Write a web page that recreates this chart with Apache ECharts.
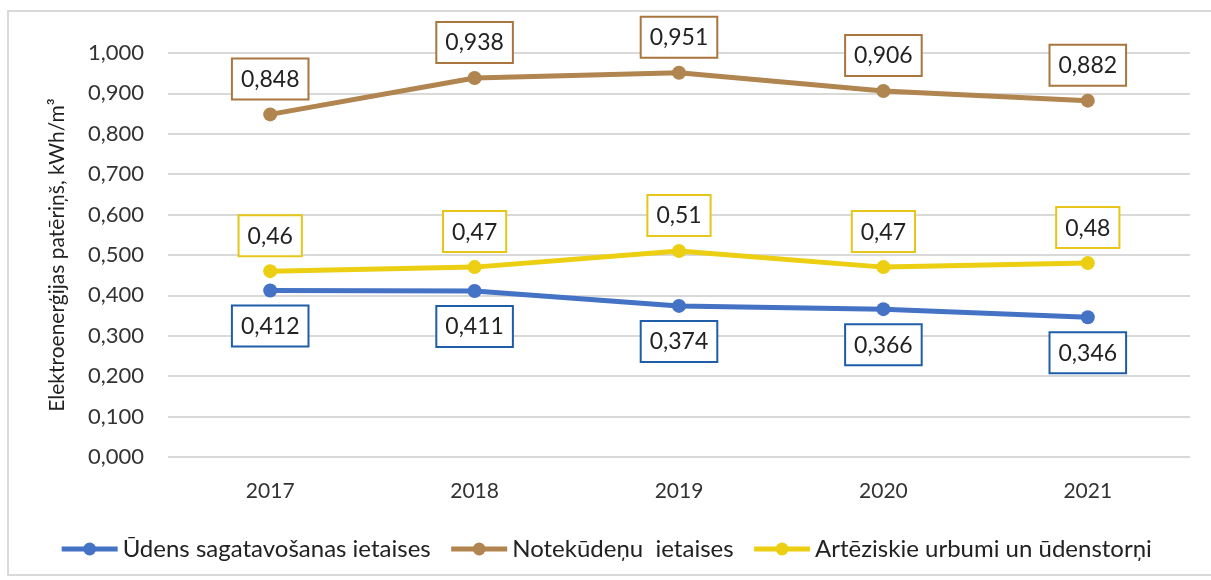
<!DOCTYPE html>
<html style="height: 100%;">
<head>
<meta charset="utf-8">
<title>Elektroenerģijas patēriņš</title>
<script type="text/javascript" src="https://cdn.jsdelivr.net/npm/echarts@6/dist/echarts.min.js"></script>
</head>
<body style="height: 100%; margin: 0; background: #fff;">
<div id="frame" style="position:absolute; left:7px; top:10px; width:1210px; height:566px; border:2px solid #d9d9d9; box-sizing:border-box;"></div>
<div id="container" style="position:absolute; left:0; top:0; width:1211px; height:580px;"></div>
<script type="text/javascript">
// dati
var years = ['2017', '2018', '2019', '2020', '2021'];
var udens = [0.412, 0.411, 0.374, 0.366, 0.346];
var noteku = [0.848, 0.938, 0.951, 0.906, 0.882];
var artez = [0.46, 0.47, 0.51, 0.47, 0.48];
var seriesNames = ['Ūdens sagatavošanas ietaises', 'Notekūdeņu  ietaises', 'Artēziskie urbumi un ūdenstorņi'];

var font = 'Lato, "Open Sans", sans-serif';
var myChart = echarts.init(document.getElementById('container'));

function comma(v, d) {
    return v.toFixed(d).replace('.', ',');
}

function makeLabel(pos, border, dec) {
    return {
        show: true,
        position: pos,
        distance: 9,
        fontFamily: font,
        fontSize: 23,
        color: '#222',
        backgroundColor: '#fff',
        borderColor: border,
        borderWidth: 2,
        padding: [7, 8, 6, 8],
        lineHeight: 26,
        formatter: function (p) { return comma(p.value, dec); }
    };
}

var option = {
    animation: false,
    grid: { left: 168, right: 21, top: 53, bottom: 123 },
    legend: {
        bottom: 14,
        left: 'center',
        itemWidth: 56,
        itemHeight: 16,
        itemGap: 18,
        itemStyle: { borderWidth: 0 },
        lineStyle: { width: 5 },
        textStyle: { fontFamily: font, fontSize: 24, color: '#222' },
        data: seriesNames
    },
    xAxis: {
        type: 'category',
        data: years,
        axisLine: { show: false },
        axisTick: { show: false },
        axisLabel: { fontFamily: font, fontSize: 21, color: '#333', margin: 24 }
    },
    yAxis: {
        type: 'value',
        min: 0,
        max: 1,
        interval: 0.1,
        name: 'Elektroenerģijas patēriņš, kWh/m³',
        nameLocation: 'middle',
        nameGap: 100,
        nameTextStyle: { fontFamily: font, fontSize: 21, color: '#222' },
        axisLabel: {
            fontFamily: font, fontSize: 22, color: '#333', margin: 24,
            formatter: function (v) { return comma(v, 3); }
        },
        splitLine: { lineStyle: { color: '#d9d9d9', width: 2 } }
    },
    series: [
        {
            name: seriesNames[0], type: 'line', data: udens,
            symbol: 'circle', symbolSize: 14,
            lineStyle: { width: 5, color: '#4472c4' },
            itemStyle: { color: '#4472c4' },
            label: makeLabel('bottom', '#1f5da8', 3)
        },
        {
            name: seriesNames[1], type: 'line', data: noteku,
            symbol: 'circle', symbolSize: 14,
            lineStyle: { width: 5, color: '#b0854f' },
            itemStyle: { color: '#b0854f' },
            label: makeLabel('top', '#a8763e', 3)
        },
        {
            name: seriesNames[2], type: 'line', data: artez,
            symbol: 'circle', symbolSize: 14,
            lineStyle: { width: 5, color: '#ecce12' },
            itemStyle: { color: '#ecce12' },
            label: makeLabel('top', '#e6c619', 2)
        }
    ]
};
myChart.setOption(option);
window.onresize = function () { myChart.resize(); };
</script>
</body>
</html>
